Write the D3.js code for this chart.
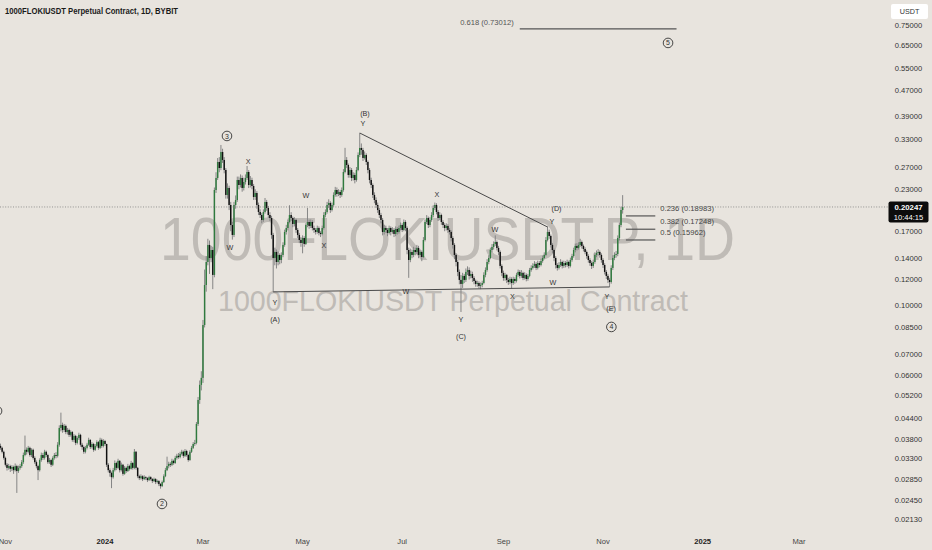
<!DOCTYPE html>
<html><head><meta charset="utf-8">
<script src="https://cdn.jsdelivr.net/npm/d3@7"></script>
<style>html,body{margin:0;padding:0;background:#e8e4de;overflow:hidden}svg{display:block}</style>
</head><body><svg id="c" width="932" height="550"></svg>
<script>
// ---------- DATA ----------
const title = "1000FLOKIUSDT Perpetual Contract, 1D, BYBIT";
const watermark1 = "1000FLOKIUSDT.P, 1D";
const watermark2 = "1000FLOKIUSDT Perpetual Contract";
const startDate = "2023-10-29";
const firstOpen = 0.0362;
const closes = [
.0357,.0347,.0332,.0316,.0309,.0313,.0307,.0311,.0304,.0313,
.0302,.0309,.0313,.0322,.0339,.0352,.0347,.0357,.0339,.0352,
.0332,.0322,.0313,.0304,.0327,.0339,.0332,.0347,.0339,.0322,
.0327,.0316,.0332,.0339,.0337,.0365,.0412,.0421,.0406,.0418,
.0400,.0406,.0392,.0400,.0378,.0389,.0370,.0383,.0392,.0365,
.0359,.0347,.0357,.0365,.0378,.0359,.0367,.0352,.0362,.0372,
.0357,.0378,.0362,.0375,.0367,.0316,.0304,.0298,.0289,.0304,
.0320,.0309,.0325,.0304,.0316,.0296,.0309,.0302,.0313,.0307,
.0320,.0309,.0347,.0309,.0291,.0287,.0291,.0285,.0289,.0287,
.0283,.0289,.0285,.0281,.0285,.0279,.0281,.0275,.0271,.0279,
.0291,.0304,.0313,.0318,.0316,.0325,.0320,.0332,.0337,.0334,
.0342,.0347,.0337,.0349,.0339,.0327,.0347,.0357,.0367,.0370,
.0424,.0504,.0562,.0591,.0865,.1154,.1362,.1540,.1402,.1485,
.1241,.2288,.2495,.2800,.2681,.3009,.2841,.2643,.2208,.2322,
.2054,.1778,.1655,.2054,.2129,.2459,.2372,.2495,.2322,.2424,
.2495,.2605,.2372,.2459,.2355,.2176,.2239,.2054,.1953,.1911,
.1844,.1953,.2099,.2010,.1911,.1870,.1655,.1402,.1464,.1362,
.1433,.1382,.1433,.1540,.1691,.1740,.1817,.1911,.1870,.1791,
.1844,.1716,.1655,.1596,.1562,.1619,.1551,.1778,.1817,.1766,
.1817,.1740,.1716,.1691,.1740,.1679,.1667,.1740,.1911,.1953,
.2054,.2084,.1981,.2054,.2208,.2288,.2223,.2256,.2208,.2288,
.2605,.2841,.2740,.2550,.2643,.2495,.2550,.2459,.2643,.2945,
.3097,.3053,.2882,.2945,.2800,.2643,.2459,.2372,.2208,.2129,
.2054,.1981,.1911,.1844,.1691,.1740,.1716,.1679,.1740,.1691,
.1716,.1667,.1728,.1691,.1740,.1778,.1716,.1817,.1740,.1485,
.1382,.1464,.1433,.1485,.1464,.1507,.1433,.1464,.1412,.1596,
.1817,.1870,.1778,.1844,.1911,.2010,.2054,.1953,.1870,.1911,
.1817,.1778,.1740,.1766,.1716,.1691,.1619,.1540,.1433,.1362,
.1268,.1197,.1163,.1232,.1197,.1268,.1286,.1232,.1249,.1214,
.1188,.1163,.1171,.1146,.1154,.1171,.1241,.1286,.1362,.1402,
.1485,.1518,.1551,.1573,.1507,.1464,.1324,.1259,.1214,.1241,
.1197,.1179,.1205,.1171,.1205,.1188,.1241,.1268,.1232,.1259,
.1214,.1241,.1205,.1232,.1286,.1305,.1324,.1343,.1305,.1352,
.1333,.1372,.1402,.1433,.1596,.1691,.1643,.1540,.1485,.1402,
.1333,.1305,.1333,.1362,.1324,.1352,.1333,.1362,.1324,.1382,
.1422,.1485,.1529,.1507,.1540,.1573,.1529,.1496,.1464,.1422,
.1382,.1352,.1324,.1362,.1433,.1454,.1464,.1433,.1382,.1333,
.1268,.1232,.1197,.1179,.1305,.1402,.1433,.1443,.1619,.1778,
.1981,.20247];
const highs = [
.0368,.0360,.0350,.0335,.0320,.0318,.0316,.0315,.0314,.0319,
.0316,.0314,.0318,.0327,.0345,.0390,.0358,.0362,.0360,.0356,
.0355,.0336,.0326,.0316,.0331,.0345,.0344,.0352,.0350,.0342,
.0332,.0330,.0336,.0344,.0346,.0372,.0420,.0460,.0428,.0424,
.0422,.0412,.0410,.0405,.0403,.0394,.0392,.0388,.0398,.0395,
.0370,.0363,.0362,.0370,.0384,.0380,.0372,.0370,.0367,.0377,
.0375,.0384,.0382,.0380,.0378,.0368,.0320,.0308,.0301,.0309,
.0326,.0323,.0330,.0327,.0321,.0318,.0313,.0312,.0318,.0316,
.0325,.0322,.0354,.0349,.0311,.0294,.0295,.0293,.0293,.0291,
.0289,.0292,.0291,.0287,.0288,.0287,.0284,.0283,.0277,.0282,
.0295,.0309,.0335,.0323,.0322,.0330,.0328,.0337,.0342,.0344,
.0347,.0352,.0350,.0354,.0352,.0342,.0351,.0362,.0372,.0378,
.0430,.0515,.0580,.0620,.0897,.1290,.1420,.1610,.1590,.1530,
.1520,.2330,.2600,.2880,.2900,.3165,.3080,.2900,.2680,.2400,
.2360,.2100,.1820,.2100,.2200,.2520,.2520,.2560,.2540,.2500,
.2560,.2720,.2640,.2530,.2500,.2390,.2300,.2270,.2090,.1990,
.1940,.1990,.2160,.2130,.2040,.1950,.1900,.1680,.1510,.1490,
.1470,.1450,.1460,.1570,.1720,.1780,.1850,.2050,.1950,.1890,
.1880,.1860,.1740,.1680,.1630,.1650,.1640,.1800,.2010,.1850,
.1850,.1840,.1770,.1740,.1770,.1760,.1700,.1770,.1950,.1990,
.2100,.2140,.2110,.2090,.2250,.2340,.2330,.2300,.2290,.2330,
.2660,.3100,.2900,.2770,.2700,.2680,.2600,.2590,.2700,.3000,
.3450,.3200,.3100,.3020,.2980,.2830,.2680,.2500,.2400,.2250,
.2170,.2090,.2010,.1940,.1870,.1780,.1770,.1740,.1770,.1760,
.1750,.1740,.1760,.1750,.1770,.1810,.1800,.1850,.1840,.1760,
.1510,.1500,.1490,.1520,.1510,.1540,.1530,.1490,.1480,.1630,
.1850,.1910,.1890,.1880,.1950,.2050,.2090,.2080,.1980,.1950,
.1930,.1840,.1800,.1800,.1790,.1740,.1710,.1640,.1560,.1450,
.1380,.1290,.1240,.1260,.1250,.1300,.1320,.1310,.1280,.1270,
.1230,.1200,.1190,.1185,.1175,.1190,.1265,.1310,.1390,.1430,
.1510,.1550,.1580,.1650,.1590,.1530,.1480,.1340,.1280,.1260,
.1250,.1215,.1225,.1220,.1225,.1220,.1260,.1290,.1285,.1285,
.1270,.1265,.1255,.1250,.1305,.1330,.1350,.1370,.1360,.1375,
.1370,.1395,.1425,.1460,.1630,.1760,.1720,.1660,.1560,.1500,
.1420,.1350,.1360,.1390,.1375,.1375,.1370,.1385,.1375,.1405,
.1445,.1510,.1555,.1560,.1570,.1610,.1590,.1545,.1515,.1480,
.1440,.1400,.1370,.1385,.1460,.1480,.1495,.1480,.1450,.1400,
.1350,.1285,.1250,.1215,.1330,.1430,.1460,.1475,.1650,.1810,
.2030,.2205];
const lows = [
.0352,.0343,.0328,.0312,.0303,.0305,.0300,.0302,.0296,.0301,
.0258,.0298,.0305,.0309,.0318,.0336,.0340,.0343,.0335,.0334,
.0328,.0318,.0308,.0283,.0301,.0323,.0327,.0328,.0334,.0318,
.0318,.0311,.0313,.0328,.0331,.0333,.0360,.0402,.0398,.0400,
.0394,.0393,.0386,.0387,.0373,.0372,.0364,.0366,.0378,.0360,
.0352,.0342,.0343,.0353,.0362,.0354,.0355,.0347,.0349,.0358,
.0352,.0354,.0357,.0358,.0362,.0311,.0299,.0290,.0267,.0286,
.0301,.0304,.0306,.0299,.0301,.0292,.0294,.0298,.0300,.0303,
.0305,.0305,.0306,.0305,.0287,.0283,.0284,.0281,.0283,.0283,
.0279,.0281,.0282,.0277,.0279,.0275,.0276,.0271,.0266,.0269,
.0277,.0289,.0302,.0308,.0311,.0313,.0316,.0318,.0328,.0330,
.0331,.0338,.0332,.0334,.0335,.0323,.0325,.0344,.0354,.0362,
.0366,.0418,.0490,.0540,.0570,.0850,.1100,.1330,.1250,.1360,
.1120,.1220,.2240,.2460,.2600,.2640,.2780,.2580,.2150,.2150,
.1980,.1700,.1600,.1630,.2000,.2100,.2300,.2330,.2260,.2280,
.2380,.2460,.2320,.2330,.2300,.2130,.2130,.2000,.1910,.1870,
.1800,.1820,.1930,.1970,.1870,.1830,.1610,.1098,.1330,.1300,
.1330,.1340,.1350,.1410,.1520,.1660,.1710,.1800,.1830,.1750,
.1760,.1680,.1620,.1560,.1520,.1450,.1520,.1540,.1750,.1730,
.1740,.1710,.1680,.1660,.1670,.1650,.1630,.1650,.1720,.1880,
.1930,.2010,.1940,.1960,.2030,.2180,.2180,.2190,.2160,.2180,
.2260,.2580,.2680,.2500,.2500,.2440,.2450,.2400,.2430,.2620,
.2900,.2950,.2820,.2850,.2740,.2580,.2400,.2320,.2160,.2080,
.2010,.1940,.1870,.1800,.1650,.1660,.1680,.1640,.1660,.1650,
.1670,.1630,.1640,.1660,.1670,.1710,.1690,.1700,.1700,.1440,
.1215,.1360,.1400,.1410,.1430,.1440,.1400,.1410,.1370,.1400,
.1580,.1790,.1740,.1750,.1820,.1880,.1980,.1920,.1830,.1840,
.1780,.1740,.1700,.1710,.1680,.1660,.1580,.1500,.1390,.1320,
.1230,.1160,.0950,.1130,.1170,.1180,.1240,.1200,.1210,.1180,
.1160,.1140,.1140,.1125,.1120,.1135,.1160,.1220,.1270,.1340,
.1390,.1460,.1490,.1530,.1480,.1430,.1300,.1230,.1190,.1190,
.1170,.1155,.1160,.1125,.1155,.1165,.1175,.1225,.1210,.1215,
.1195,.1200,.1185,.1190,.1220,.1270,.1290,.1305,.1285,.1290,
.1310,.1320,.1355,.1390,.1420,.1580,.1610,.1510,.1450,.1370,
.1300,.1280,.1290,.1315,.1300,.1305,.1310,.1315,.1300,.1310,
.1365,.1405,.1460,.1480,.1490,.1520,.1500,.1470,.1440,.1395,
.1355,.1325,.1295,.1305,.1345,.1410,.1425,.1405,.1355,.1305,
.1245,.1205,.1170,.1138,.1165,.1285,.1380,.1405,.1420,.1590,
.1750,.1930];
const priceTicks = [0.75,0.65,0.55,0.47,0.39,0.33,0.27,0.23,0.17,0.14,0.12,0.10,0.085,0.07,0.06,0.052,0.044,0.038,0.033,0.0285,0.0245,0.0213];
const timeTicks = ["2023-11-01","2024-01-01","2024-03-01","2024-05-01","2024-07-01","2024-09-01","2024-11-01","2025-01-01","2025-03-01"];
const timeTickLabels = ["Nov","2024","Mar","May","Jul","Sep","Nov","2025","Mar"];
const currency = "USDT";
const countdown = "10:44:15";
// wave labels: [text, day index from startDate, price]
const waveLabels = [
["X",151.6,0.2820],["W",140.5,0.1507],["W",187.1,0.2192],["X",198.1,0.1529],
["Y",168.1,0.1014],["(A)",168.1,0.0897],["(B)",223.2,0.3985],["Y",222.0,0.3682],
["W",248.3,0.1105],["X",267.3,0.2223],["Y",282.0,0.0897],["(C)",282.0,0.0794],
["W",302.8,0.1716],["X",313.5,0.1059],["W",338.3,0.1171],["Y",337.7,0.1830],
["(D)",340.5,0.2010],["Y",371.4,0.1059],["(E)",373.9,0.0971]];
// circled wave degree labels: [number, day index, price]
const circleLabels = [["1",-2.1,0.04656],["2",98.9,0.02383],["3",138.7,0.3377],["4",374.1,0.0853],["5",408.8,0.6602]];
// trend lines: [[day, price],[day, price]]
const trendLines = [[[220,0.3450],[335,0.1753]],[[167,0.1098],[373,0.1138]]];
// fib levels: [ratio, price, startDay, endDay, label side]
const fibLevels = [[0.618,0.73012,318,414,"left"],[0.236,0.18983,383,401,"right"],[0.382,0.17248,383,401,"right"],[0.5,0.15962,383,401,"right"]];

// ---------- CHART ----------
const W = 932, H = 550, plotW = 885, plotH = 528;
const DAY = 864e5;
const t0 = Date.parse(startDate + "T00:00:00Z");
const dayDate = d => new Date(t0 + d * DAY);
const dates = closes.map((_, i) => dayDate(i));
const opens = closes.map((c, i) => i ? closes[i - 1] : firstOpen);

const x = d3.scaleUtc()
  .domain([new Date(Date.UTC(2023, 9, 28, 16, 48)), new Date(Date.UTC(2025, 3, 22, 16, 0))])
  .range([0, plotW]);
const y = d3.scaleLog().domain([0.020037, 0.8995]).range([plotH, 0]);

const FONT = "'Liberation Sans', Arial, sans-serif";
const svg = d3.select("#c").attr("font-family", FONT);
svg.append("rect").attr("width", W).attr("height", H).attr("fill", "#e8e4de");

svg.append("defs").append("clipPath").attr("id", "plot")
  .append("rect").attr("x", 0).attr("y", 0).attr("width", plotW).attr("height", plotH);

// watermark
const wm = svg.append("g").attr("fill", "#bfbbb6");
wm.append("text").attr("x", 447.5).attr("y", 260).attr("text-anchor", "middle")
  .attr("font-size", 62).attr("textLength", 575).attr("lengthAdjust", "spacingAndGlyphs").text(watermark1);
wm.append("text").attr("x", 453).attr("y", 311).attr("text-anchor", "middle")
  .attr("font-size", 30).attr("textLength", 470).attr("lengthAdjust", "spacingAndGlyphs").text(watermark2);

const plot = svg.append("g").attr("clip-path", "url(#plot)");

// last price dotted line
const last = closes[closes.length - 1];
svg.append("line").attr("x1", 0).attr("x2", plotW + 3).attr("y1", y(last)).attr("y2", y(last))
  .attr("stroke", "#7d7d7d").attr("stroke-width", 0.8).attr("stroke-dasharray", "1,1.6");

// candles
const bw = 1.45;
plot.append("g").selectAll("line").data(closes).join("line")
  .attr("x1", (d, i) => x(dates[i])).attr("x2", (d, i) => x(dates[i]))
  .attr("y1", (d, i) => y(Math.max(highs[i], opens[i], d)))
  .attr("y2", (d, i) => y(Math.min(lows[i], opens[i], d)))
  .attr("stroke", "#858585").attr("stroke-width", 1);
plot.append("g").selectAll("rect").data(closes).join("rect")
  .attr("x", (d, i) => x(dates[i]) - bw / 2).attr("width", bw)
  .attr("y", (d, i) => y(Math.max(opens[i], d)))
  .attr("height", (d, i) => Math.max(0.9, Math.abs(y(opens[i]) - y(d))))
  .attr("fill", (d, i) => d >= opens[i] ? "#2f7a3e" : "#101010");

// trend lines
plot.append("g").selectAll("line").data(trendLines).join("line")
  .attr("x1", d => x(dayDate(d[0][0]))).attr("y1", d => y(d[0][1]))
  .attr("x2", d => x(dayDate(d[1][0]))).attr("y2", d => y(d[1][1]))
  .attr("stroke", "#4a4a4a").attr("stroke-width", 1);

// fib levels
const fg = plot.append("g");
fibLevels.forEach(f => {
  const [r, p, s, e, side] = f;
  const yy = y(p);
  fg.append("line").attr("x1", x(dayDate(s))).attr("x2", x(dayDate(e))).attr("y1", yy).attr("y2", yy)
    .attr("stroke", "#555").attr("stroke-width", 1.2);
  const lbl = `${r} (${p.toFixed(5)})`;
  if (side === "left") {
    fg.append("text").attr("x", x(dayDate(s)) - 6).attr("y", yy - 7).attr("dy", "0.35em")
      .attr("text-anchor", "end").attr("font-size", 7.6).attr("fill", "#555").text(lbl);
  } else {
    fg.append("text").attr("x", x(dayDate(e)) + 5).attr("y", yy - 8).attr("dy", "0.35em")
      .attr("text-anchor", "start").attr("font-size", 7.6).attr("fill", "#444").text(lbl);
  }
});

// wave labels
plot.append("g").selectAll("text").data(waveLabels).join("text")
  .attr("x", d => x(dayDate(d[1]))).attr("y", d => y(d[2])).attr("dy", "0.35em")
  .attr("text-anchor", "middle").attr("font-size", 7.2).attr("fill", "#333").text(d => d[0]);

const cg = svg.append("g").selectAll("g").data(circleLabels).join("g")
  .attr("transform", d => `translate(${x(dayDate(d[1]))},${y(d[2])})`);
cg.append("circle").attr("r", 4.8).attr("fill", "none").attr("stroke", "#333").attr("stroke-width", 0.9);
cg.append("text").attr("dy", "0.36em").attr("text-anchor", "middle").attr("font-size", 7)
  .attr("fill", "#333").text(d => d[0]);

// price axis labels
svg.append("g").selectAll("text").data(priceTicks).join("text")
  .attr("x", 908.5).attr("y", d => y(d)).attr("dy", "0.35em").attr("text-anchor", "middle")
  .attr("font-size", 7.6).attr("fill", "#333").text(d => d3.format(".5f")(d));

// time axis labels
svg.append("g").selectAll("text").data(timeTicks).join("text")
  .attr("x", d => x(new Date(d + "T00:00:00Z"))).attr("y", 541).attr("dy", "0.35em")
  .attr("text-anchor", "middle").attr("font-size", 7.6)
  .attr("font-weight", (d, i) => /^\d{4}$/.test(timeTickLabels[i]) ? "bold" : "normal")
  .attr("fill", (d, i) => /^\d{4}$/.test(timeTickLabels[i]) ? "#222" : "#444")
  .text((d, i) => timeTickLabels[i]);

// currency box
svg.append("rect").attr("x", 891).attr("y", 4).attr("width", 37).attr("height", 15).attr("rx", 2).attr("fill", "#fff");
svg.append("text").attr("x", 909.5).attr("y", 11.5).attr("dy", "0.35em").attr("text-anchor", "middle")
  .attr("font-size", 7.2).attr("fill", "#333").text(currency);

// last price label
const ly = y(last);
svg.append("rect").attr("x", 888.5).attr("y", ly - 5.5).attr("width", 40).attr("height", 21).attr("rx", 2).attr("fill", "#0c0c0c");
svg.append("text").attr("x", 908.5).attr("y", ly).attr("dy", "0.35em").attr("text-anchor", "middle")
  .attr("font-size", 7.8).attr("font-weight", "bold").attr("fill", "#fff").text(last.toFixed(5));
svg.append("text").attr("x", 908.5).attr("y", ly + 10).attr("dy", "0.35em").attr("text-anchor", "middle")
  .attr("font-size", 7.6).attr("fill", "#fff").text(countdown);

// title
svg.append("text").attr("x", 5).attr("y", 14).attr("font-size", 9).attr("font-weight", "bold")
  .attr("fill", "#1a1a1a").attr("textLength", 173).attr("lengthAdjust", "spacingAndGlyphs").text(title);
</script></body></html>
